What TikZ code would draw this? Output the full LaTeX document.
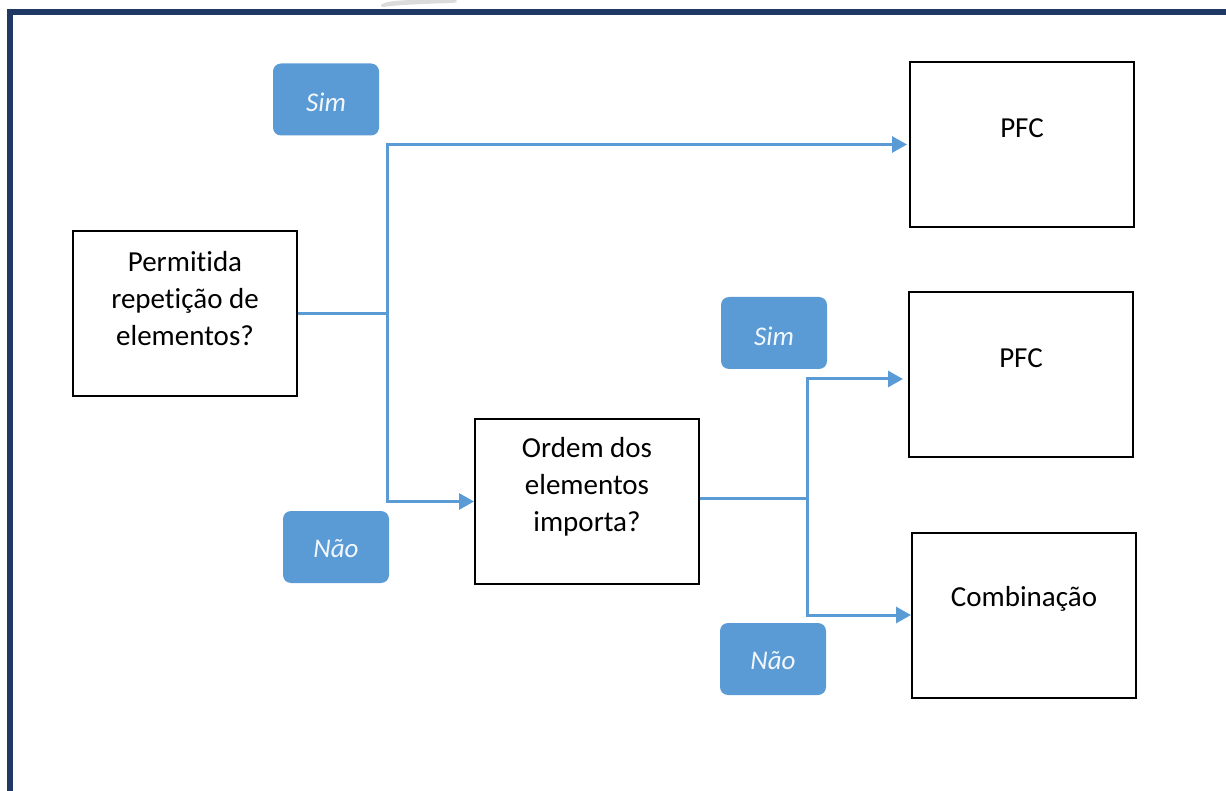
\documentclass[tikz,border=0pt]{standalone}
\usepackage{fontspec}
\setmainfont[Ligatures=NoCommon]{Carlito}
\usetikzlibrary{arrows.meta}
\definecolor{accent}{HTML}{5B9BD5}
\definecolor{framecol}{HTML}{1F3864}
\begin{document}
\begin{tikzpicture}[x=1pt,y=-1pt,
  box/.style={draw=black,line width=2pt,minimum width=224pt,minimum height=165pt,inner sep=0pt},
  txt/.style={font=\fontsize{29}{37}\selectfont,align=center,inner sep=0pt},
  lbl/.style={fill=accent,rounded corners=8pt,minimum width=106pt,minimum height=72pt,inner sep=0pt},
  lbltxt/.style={inner sep=0pt,text=white!92!accent,font=\itshape\fontsize{27}{30}\selectfont},
  conn/.style={draw=accent,line width=3pt},
  arr/.style={conn,-{Triangle[length=15pt,width=16pt]}}]
\useasboundingbox (0,0) rectangle (1226,791);
% frame
\fill[framecol] (7,9) rectangle (1226,15);
\fill[framecol] (7,9) rectangle (13,791);
\fill[gray!28] (381,5) .. controls (385,1) and (400,0) .. (420,0) -- (456,0) .. controls (458,2) and (456,3) .. (450,3) .. controls (420,4) and (395,5) .. (384,7) .. controls (381,7) and (380,6) .. (381,5) -- cycle;
% boxes
\node[box] (A) at (185,313.5) {};
\node[txt,yshift=15pt] (At) at (A.center) {Permitida\\repetição de\\elementos?};
\node[box] (P1) at (1022,144.5) {};
\node[txt,yshift=16pt] (P1t) at (P1.center) {PFC};
\node[box] (O) at (587,501.5) {};
\node[txt,yshift=15pt] (Ot) at (O.center) {Ordem dos\\elementos\\importa?};
\node[box] (P2) at (1021,374.5) {};
\node[txt,yshift=16pt] (P2t) at (P2.center) {PFC};
\node[box] (C) at (1024,615) {};
\node[txt,yshift=16pt] (Ct) at (C.center) {Combinação};
% labels
\node[lbl] (s1) at (326,99.5) {};
\node[lbltxt,yshift=-3pt] (s1t) at (s1.center) {Sim};
\node[lbl] (n1) at (336,547) {};
\node[lbltxt,yshift=-2pt] (n1t) at (n1.center) {Não};
\node[lbl] (s2) at (774,333) {};
\node[lbltxt,yshift=-3pt] (s2t) at (s2.center) {Sim};
\node[lbl] (n2) at (773,659) {};
\node[lbltxt,yshift=-2pt] (n2t) at (n2.center) {Não};
% connectors
\coordinate (j1) at (387,313.5);
\coordinate (j2) at (807,498);
\draw[conn] (A.east) -- (j1);
\draw[arr,shorten >=2pt] (j1) |- (P1.west);
\draw[arr] (j1) |- (O.west);
\draw[conn] ([yshift=3.5pt]O.east) -- (j2);
\draw[arr] (j2) |- ([xshift=-5pt,yshift=-4.5pt]P2.west);
\draw[arr] (j2) |- (C.west);
\end{tikzpicture}
\end{document}
